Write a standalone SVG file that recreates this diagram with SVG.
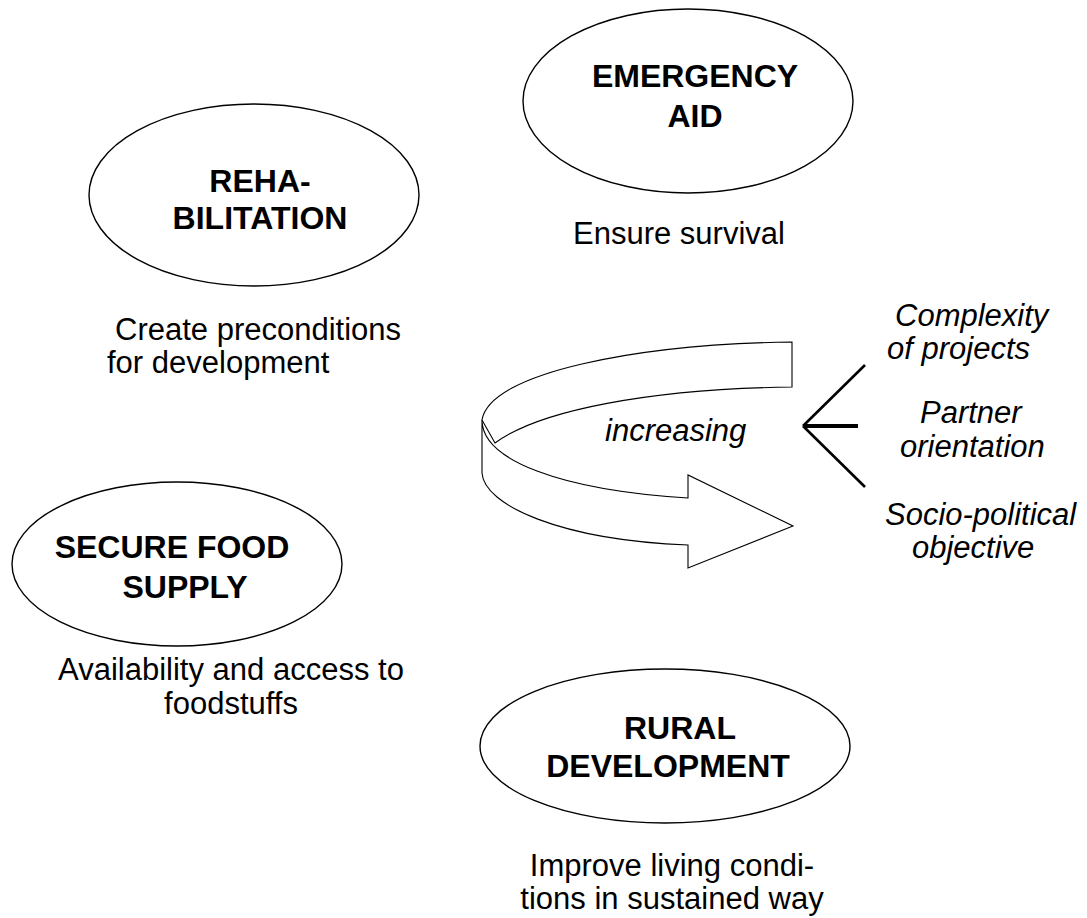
<svg xmlns="http://www.w3.org/2000/svg" width="1087" height="918" viewBox="0 0 1087 918">
<style>
.el{fill:#fff;stroke:#000;stroke-width:1.4}
.h{font-family:"Liberation Sans",Arial,sans-serif;font-weight:bold;font-size:32px;fill:#000}
.t{font-family:"Liberation Sans",Arial,sans-serif;font-size:31px;fill:#000}
.i{font-family:"Liberation Sans",Arial,sans-serif;font-style:italic;font-size:31px;fill:#000}
.rib{fill:#fff;stroke:#000;stroke-width:1.1;stroke-linejoin:miter}
.br{stroke:#000;stroke-width:2.6;fill:none}
</style>
<rect width="1087" height="918" fill="#fff"/>
<g id="emergency-aid">
<ellipse class="el" cx="688" cy="101" rx="165" ry="92"/>
<text class="h" x="695" y="87" text-anchor="middle">EMERGENCY</text>
<text class="h" x="695" y="127" text-anchor="middle">AID</text>
<text class="t" x="679" y="244" text-anchor="middle">Ensure survival</text>
</g>
<g id="rehabilitation">
<ellipse class="el" cx="254" cy="195" rx="165" ry="91"/>
<text class="h" x="260" y="192" text-anchor="middle">REHA-</text>
<text class="h" x="260" y="229" text-anchor="middle">BILITATION</text>
<text class="t" x="115" y="340">Create preconditions</text>
<text class="t" x="107" y="373">for development</text>
</g>
<g id="secure-food-supply">
<ellipse class="el" cx="177" cy="564" rx="165" ry="82"/>
<text class="h" x="172" y="558" text-anchor="middle">SECURE FOOD</text>
<text class="h" x="185" y="598" text-anchor="middle">SUPPLY</text>
<text class="t" x="231" y="680" text-anchor="middle">Availability and access to</text>
<text class="t" x="231" y="714" text-anchor="middle">foodstuffs</text>
</g>
<g id="rural-development">
<ellipse class="el" cx="665" cy="746" rx="185" ry="77"/>
<text class="h" x="680" y="739" text-anchor="middle">RURAL</text>
<text class="h" x="668" y="777" text-anchor="middle">DEVELOPMENT</text>
<text class="t" x="672" y="876" text-anchor="middle">Improve living condi-</text>
<text class="t" x="672" y="909" text-anchor="middle">tions in sustained way</text>
</g>
<g id="increasing-arrow">
<path class="rib" d="M792,342 C640,344 490,372 482,420 L495,443 C540,410 650,389 792,387 Z"/>
<path class="rib" d="M482,420 L482,473 C484,505 560,540 688,545 L688,568 L793,526 L688,475 L688,498 C560,490 482,460 482,420 Z"/>
<text class="i" x="605" y="441">increasing</text>
</g>
<g id="connectors">
<line class="br" x1="803" y1="426" x2="865" y2="365"/>
<line class="br" x1="803" y1="426" x2="858" y2="426" style="stroke-width:4"/>
<line class="br" x1="803" y1="426" x2="865" y2="487"/>
</g>
<g id="factors">
<text class="i" x="895" y="326">Complexity</text>
<text class="i" x="887" y="359">of projects</text>
<text class="i" x="920" y="423">Partner</text>
<text class="i" x="900" y="457">orientation</text>
<text class="i" x="885" y="525">Socio-political</text>
<text class="i" x="912" y="558">objective</text>
</g>
</svg>
